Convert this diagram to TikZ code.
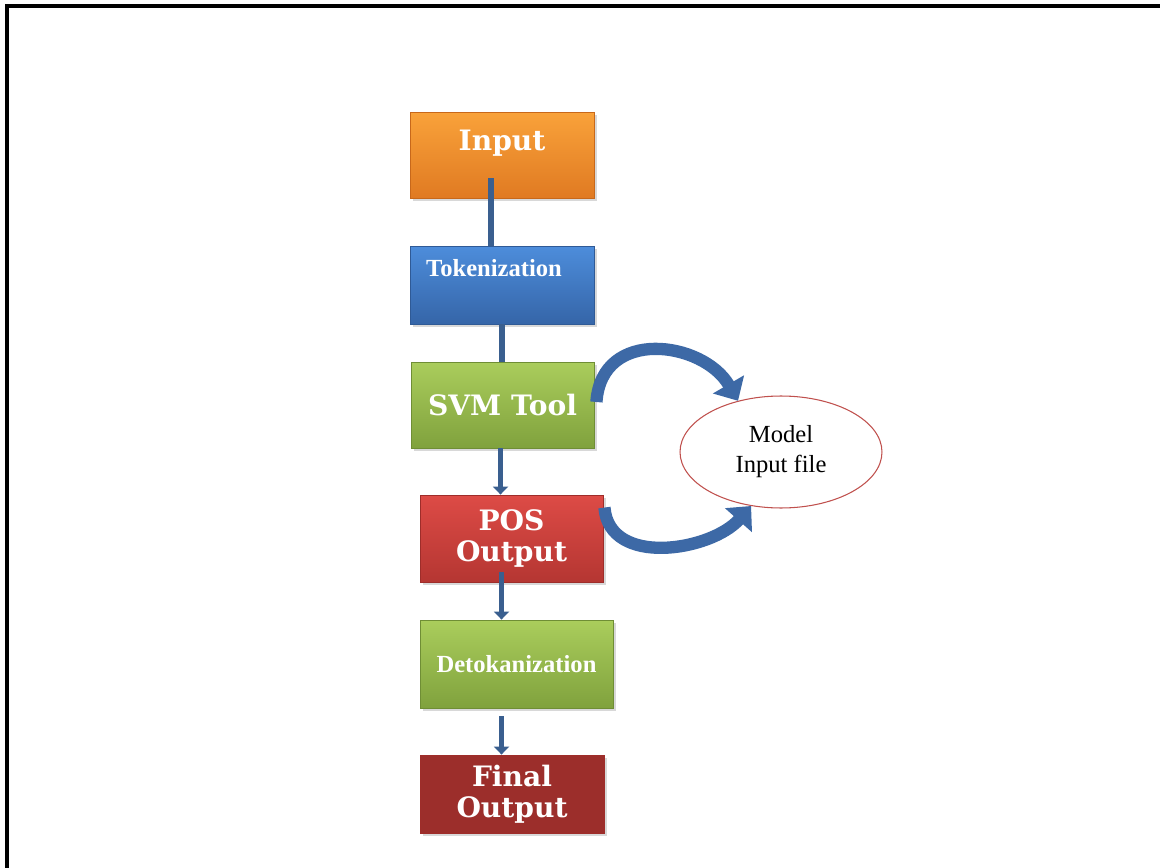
\documentclass[tikz,border=0pt]{standalone}
\usepackage{fontspec}
\setmainfont{Liberation Serif}
\newfontfamily\slabfont{DejaVu Serif}
\usetikzlibrary{calc,shapes.geometric,arrows.meta,shadows}
\definecolor{orangeT}{HTML}{F9A23A}
\definecolor{orangeB}{HTML}{E07A22}
\definecolor{orangeD}{HTML}{C8681A}
\definecolor{blueT}{HTML}{4D8DDB}
\definecolor{blueB}{HTML}{3565A8}
\definecolor{blueD}{HTML}{2F5A96}
\definecolor{greenT}{HTML}{AACD5C}
\definecolor{greenB}{HTML}{80A23D}
\definecolor{greenD}{HTML}{6F8E35}
\definecolor{redT}{HTML}{DD4B46}
\definecolor{redB}{HTML}{B53632}
\definecolor{redD}{HTML}{9E2D2A}
\definecolor{darkred}{HTML}{9C2E2B}
\definecolor{conncol}{HTML}{3A5F8F}
\definecolor{curvcol}{HTML}{3D69A6}
\definecolor{ellred}{HTML}{C0504D}
\begin{document}
\begin{tikzpicture}[x=0.02cm,y=-0.02cm,
  box/.style={rectangle, draw, line width=0.5pt, inner sep=0pt, text=white, align=center,
    drop shadow={shadow xshift=1.5pt, shadow yshift=-1.5pt, opacity=0.3}},
  slab/.style={font=\slabfont\bfseries\fontsize{16}{17.5}\selectfont},
  times/.style={font=\bfseries\fontsize{14}{16}\selectfont},
  conn/.style={draw=conncol, line width=3.4pt},
  connarrow/.style={conn, -{Triangle[width=0.3cm,length=0.16cm]}},
  curv/.style={draw=curvcol, line width=7pt, -{Triangle[width=0.7cm,length=0.38cm]}}
]
\useasboundingbox (0,0) rectangle (1160,868);
\fill[white] (0,0) rectangle (1160,868);
\draw[black, line width=2pt] (7,868) -- (7,6) -- (1160,6);

\node[box, slab, top color=orangeT, bottom color=orangeB, draw=orangeD,
  minimum width=3.68cm, minimum height=1.72cm, text depth=0.6cm] (input) at (502,155) {Input};
\node[box, times, top color=blueT, bottom color=blueB, draw=blueD,
  minimum width=3.68cm, minimum height=1.56cm, text depth=0.68cm] (tok) at (502,285) {Tokenization\hspace*{0.32cm}};
\node[box, slab, top color=greenT, bottom color=greenB, draw=greenD,
  minimum width=3.66cm, minimum height=1.72cm] (svm) at (502.5,405) {SVM Tool};
\node[box, slab, top color=redT, bottom color=redB, draw=redD,
  minimum width=3.66cm, minimum height=1.74cm] (pos) at (511.5,538.5) {POS\\Output};
\node[box, times, top color=greenT, bottom color=greenB, draw=greenD,
  minimum width=3.86cm, minimum height=1.76cm] (detok) at (516.5,664) {Detokanization};
\node[box, slab, fill=darkred, draw=redD,
  minimum width=3.68cm, minimum height=1.56cm] (final) at (512,794) {Final\\Output};
\node[ellipse, draw=ellred, line width=0.6pt, fill=white, inner sep=0pt,
  minimum width=4.04cm, minimum height=2.24cm, align=center,
  font=\fontsize{14}{17}\selectfont] (model) at (781,452) {Model\\Input file};

% vertical connectors
\coordinate (c1) at ($(input.south)+(-11,-20)$);
\draw[conn] (c1) -- (c1 |- tok.north);
\coordinate (c2) at (tok.south);
\draw[conn] (c2) -- (c2 |- svm.north);
\coordinate (c3) at ($(svm.south)+(-2,0)$);
\draw[connarrow] (c3) -- (c3 |- pos.north);
\coordinate (c4) at ($(pos.south)+(-10,-10)$);
\draw[connarrow] (c4) -- (c4 |- detok.north);
\coordinate (c5) at ($(detok.south)+(-15,8)$);
\draw[connarrow] (c5) -- (c5 |- final.north);

% curved block arrows
\coordinate (s1) at ($(svm.east)+(2,-3)$);
\draw[curv] (s1) .. controls +(5,-75) and +(-35,-60) .. (model.130);
\coordinate (s2) at ($(pos.north east)+(1,13)$);
\draw[curv] (s2) .. controls +(5,60) and +(-40,45) .. (model.241);
\end{tikzpicture}
\end{document}
